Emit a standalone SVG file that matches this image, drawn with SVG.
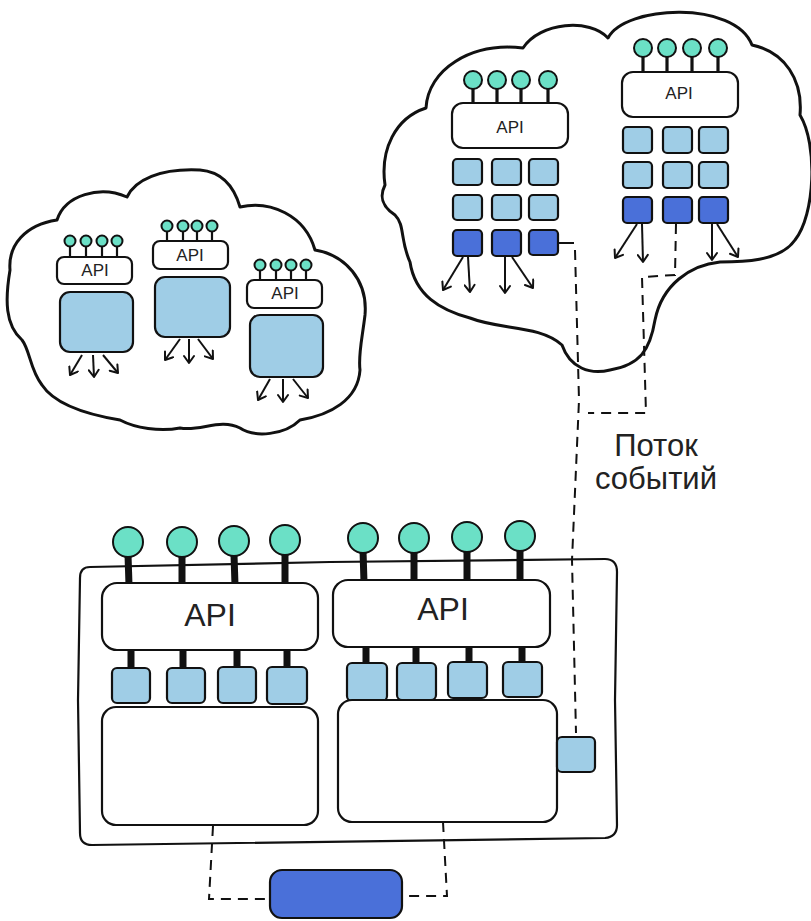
<svg xmlns="http://www.w3.org/2000/svg" width="811" height="921" viewBox="0 0 811 921">
<style>
.cloud{fill:#fff;stroke:#111;stroke-width:3;stroke-linejoin:round}
.ol{fill:#fff;stroke:#111;stroke-width:2.2}
.lb{fill:#9fcde6;stroke:#111;stroke-width:2.2}
.db{fill:#4a70d9;stroke:#111;stroke-width:2.2}
.tl{fill:#6be0c6;stroke:#111;stroke-width:2}
.stem{stroke:#111;stroke-width:2.2}
.stemT{stroke:#111;stroke-width:3.2}
.stemB{stroke:#111;stroke-width:7}
.arr{fill:none;stroke:#111;stroke-width:2;marker-end:url(#ah)}
.dash{fill:none;stroke:#111;stroke-width:2;stroke-dasharray:10 7}
.t{font-family:"Liberation Sans",Arial,sans-serif;fill:#222;text-anchor:middle}
</style>
<defs>
<marker id="ah" viewBox="-9 -6 11 12" refX="0" refY="0" markerWidth="11" markerHeight="12" markerUnits="userSpaceOnUse" orient="auto">
<path d="M-7,-5 L0,0 L-7,5" fill="none" stroke="#111" stroke-width="2" stroke-linecap="round" stroke-linejoin="round"/>
</marker>
</defs>
<rect width="811" height="921" fill="#fff"/>

<g id="cloud-left">
<path class="cloud" d="M10,270 C8,245 25,225 57,220 C65,195 100,185 127,197 C135,180 160,168 200,170 C225,172 235,190 240,207 C270,200 305,215 315,250 C345,255 368,280 365,315 C362,340 358,355 360,370 C358,400 330,415 300,420 C285,435 255,438 240,428 C220,418 200,432 180,428 C160,432 135,428 120,420 C90,415 55,405 42,385 C30,370 30,350 22,340 C5,325 5,300 10,270 Z"/>
</g>

<g id="service-l1">
<line class="stem" x1="70" y1="246" x2="70" y2="257"/><line class="stem" x1="86" y1="246" x2="86" y2="257"/><line class="stem" x1="102" y1="246" x2="102" y2="257"/><line class="stem" x1="117" y1="246" x2="117" y2="257"/>
<circle class="tl" cx="70" cy="241" r="5.5"/><circle class="tl" cx="86" cy="241" r="5.5"/><circle class="tl" cx="102" cy="241" r="5.5"/><circle class="tl" cx="117" cy="241" r="5.5"/>
<rect class="ol" x="57" y="257" width="75" height="27" rx="7"/>
<text class="t" x="95" y="276" font-size="17">API</text>
<rect class="lb" x="60" y="292" width="73" height="60" rx="10"/>
</g>
<g id="service-l2">
<line class="stem" x1="167" y1="231" x2="167" y2="241"/><line class="stem" x1="183" y1="231" x2="183" y2="241"/><line class="stem" x1="197" y1="231" x2="197" y2="241"/><line class="stem" x1="212" y1="231" x2="212" y2="241"/>
<circle class="tl" cx="167" cy="226" r="5.5"/><circle class="tl" cx="183" cy="226" r="5.5"/><circle class="tl" cx="197" cy="226" r="5.5"/><circle class="tl" cx="212" cy="226" r="5.5"/>
<rect class="ol" x="153" y="241" width="75" height="28" rx="7"/>
<text class="t" x="190" y="261" font-size="17">API</text>
<rect class="lb" x="155" y="277" width="75" height="60" rx="10"/>
</g>
<g id="service-l3">
<line class="stem" x1="260" y1="270" x2="260" y2="280"/><line class="stem" x1="276" y1="270" x2="276" y2="280"/><line class="stem" x1="291" y1="270" x2="291" y2="280"/><line class="stem" x1="306" y1="270" x2="306" y2="280"/>
<circle class="tl" cx="260" cy="265" r="5.5"/><circle class="tl" cx="276" cy="265" r="5.5"/><circle class="tl" cx="291" cy="265" r="5.5"/><circle class="tl" cx="306" cy="265" r="5.5"/>
<rect class="ol" x="247" y="280" width="75" height="28" rx="7"/>
<text class="t" x="285" y="299" font-size="17">API</text>
<rect class="lb" x="250" y="315" width="73" height="62" rx="10"/>
</g>

<g id="cloud-right">
<path class="cloud" d="M385,185 C380,150 395,118 426,108 C428,70 470,42 523,48 C540,22 590,18 608,38 C625,5 735,0 752,45 C785,52 803,80 800,115 C818,145 815,215 795,240 C780,262 740,262 720,262 C690,265 662,285 655,320 C650,350 640,365 610,370 C590,375 570,368 562,345 C540,325 500,330 470,318 C440,310 415,295 410,262 C400,240 405,225 395,215 C380,205 380,195 385,185 Z"/>
</g>

<g id="service-r1">
<line class="stemT" x1="473" y1="88" x2="473" y2="103"/><line class="stemT" x1="497" y1="88" x2="497" y2="103"/><line class="stemT" x1="521" y1="88" x2="521" y2="103"/><line class="stemT" x1="548" y1="88" x2="548" y2="103"/>
<circle class="tl" cx="473" cy="80" r="9"/><circle class="tl" cx="497" cy="80" r="9"/><circle class="tl" cx="521" cy="80" r="9"/><circle class="tl" cx="548" cy="80" r="9"/>
<rect class="ol" x="452" y="103" width="116" height="45" rx="11"/>
<text class="t" x="510" y="133" font-size="17">API</text>
<rect class="lb" x="453" y="159" width="29" height="26" rx="4"/><rect class="lb" x="492" y="159" width="29" height="26" rx="4"/><rect class="lb" x="529" y="159" width="29" height="26" rx="4"/>
<rect class="lb" x="453" y="195" width="29" height="25" rx="4"/><rect class="lb" x="492" y="195" width="29" height="25" rx="4"/><rect class="lb" x="529" y="195" width="29" height="25" rx="4"/>
<rect class="db" x="453" y="230" width="29" height="26" rx="4"/><rect class="db" x="492" y="230" width="29" height="26" rx="4"/><rect class="db" x="529" y="230" width="29" height="25" rx="4"/>
</g>
<g id="service-r2">
<line class="stemT" x1="643" y1="56" x2="643" y2="72"/><line class="stemT" x1="667" y1="56" x2="667" y2="72"/><line class="stemT" x1="692" y1="56" x2="692" y2="72"/><line class="stemT" x1="718" y1="56" x2="718" y2="72"/>
<circle class="tl" cx="643" cy="48" r="9"/><circle class="tl" cx="667" cy="48" r="9"/><circle class="tl" cx="692" cy="48" r="9"/><circle class="tl" cx="718" cy="48" r="9"/>
<rect class="ol" x="622" y="72" width="116" height="45" rx="11"/>
<text class="t" x="679" y="99" font-size="17">API</text>
<rect class="lb" x="623" y="127" width="29" height="26" rx="4"/><rect class="lb" x="663" y="127" width="29" height="26" rx="4"/><rect class="lb" x="699" y="127" width="29" height="26" rx="4"/>
<rect class="lb" x="623" y="162" width="29" height="26" rx="4"/><rect class="lb" x="663" y="162" width="29" height="26" rx="4"/><rect class="lb" x="699" y="162" width="29" height="26" rx="4"/>
<rect class="db" x="623" y="197" width="29" height="26" rx="4"/><rect class="db" x="663" y="197" width="29" height="26" rx="4"/><rect class="db" x="699" y="197" width="29" height="26" rx="4"/>
</g>

<g id="label-stream">
<text class="t" x="656" y="456" font-size="31">Поток</text>
<text class="t" x="656" y="489" font-size="31">событий</text>
</g>

<g id="monolith">
<path class="ol" d="M90,567 L330,562 L605,559 Q617,559 617,572 L615,700 L617,825 Q617,837 605,838 L92,845 Q80,845 80,833 L78,700 L80,578 Q80,567 90,567 Z"/>
</g>
<g id="module-1">
<line class="stemB" x1="128" y1="555" x2="129" y2="585"/><line class="stemB" x1="182" y1="555" x2="182" y2="585"/><line class="stemB" x1="234" y1="555" x2="235" y2="585"/><line class="stemB" x1="285" y1="553" x2="285" y2="585"/>
<circle class="tl" cx="128" cy="542" r="15"/><circle class="tl" cx="182" cy="542" r="15"/><circle class="tl" cx="234" cy="541" r="15"/><circle class="tl" cx="285" cy="540" r="15"/>
<line class="stemB" x1="131" y1="648" x2="131" y2="670"/><line class="stemB" x1="183" y1="648" x2="183" y2="670"/><line class="stemB" x1="237" y1="648" x2="237" y2="670"/><line class="stemB" x1="287" y1="648" x2="287" y2="670"/>
<rect class="ol" x="102" y="583" width="216" height="67" rx="15"/>
<text class="t" x="210" y="626" font-size="32">API</text>
<rect class="lb" x="112" y="668" width="38" height="35" rx="5"/><rect class="lb" x="167" y="668" width="38" height="35" rx="5"/><rect class="lb" x="218" y="667" width="38" height="36" rx="5"/><rect class="lb" x="267" y="667" width="40" height="37" rx="5"/>
<rect class="ol" x="102" y="707" width="216" height="118" rx="14"/>
</g>
<g id="module-2">
<line class="stemB" x1="363" y1="551" x2="364" y2="582"/><line class="stemB" x1="414" y1="551" x2="414" y2="582"/><line class="stemB" x1="467" y1="550" x2="467" y2="582"/><line class="stemB" x1="520" y1="549" x2="520" y2="582"/>
<circle class="tl" cx="363" cy="538" r="15"/><circle class="tl" cx="414" cy="538" r="15"/><circle class="tl" cx="467" cy="537" r="15"/><circle class="tl" cx="520" cy="536" r="15"/>
<line class="stemB" x1="366" y1="645" x2="366" y2="665"/><line class="stemB" x1="416" y1="645" x2="416" y2="665"/><line class="stemB" x1="469" y1="645" x2="469" y2="664"/><line class="stemB" x1="522" y1="645" x2="522" y2="664"/>
<rect class="ol" x="333" y="580" width="217" height="67" rx="15"/>
<text class="t" x="443" y="620" font-size="32">API</text>
<rect class="lb" x="347" y="663" width="40" height="38" rx="5"/><rect class="lb" x="397" y="663" width="39" height="37" rx="5"/><rect class="lb" x="448" y="662" width="39" height="36" rx="5"/><rect class="lb" x="503" y="662" width="39" height="35" rx="5"/>
<rect class="ol" x="338" y="700" width="219" height="122" rx="14"/>
</g>
<g id="event-box">
<rect class="lb" x="557" y="737" width="38" height="35" rx="5"/>
</g>
<g id="database">
<rect class="db" x="270" y="870" width="132" height="48" rx="12"/>
</g>

<g id="connectors">
<line class="arr" x1="82" y1="355" x2="70" y2="375"/>
<line class="arr" x1="93" y1="355" x2="94" y2="377"/>
<line class="arr" x1="103" y1="355" x2="118" y2="373"/>
<line class="arr" x1="180" y1="339" x2="165" y2="360"/>
<line class="arr" x1="189" y1="339" x2="189" y2="363"/>
<line class="arr" x1="198" y1="339" x2="213" y2="359"/>
<line class="arr" x1="270" y1="379" x2="258" y2="400"/>
<line class="arr" x1="283" y1="379" x2="283" y2="402"/>
<line class="arr" x1="293" y1="379" x2="308" y2="398"/>
<line class="arr" x1="463" y1="257" x2="443" y2="290"/>
<line class="arr" x1="468" y1="257" x2="470" y2="292"/>
<line class="arr" x1="505" y1="257" x2="505" y2="293"/>
<line class="arr" x1="512" y1="257" x2="533" y2="288"/>
<line class="arr" x1="637" y1="224" x2="615" y2="258"/>
<line class="arr" x1="642" y1="224" x2="643" y2="262"/>
<line class="arr" x1="712" y1="224" x2="712" y2="260"/>
<line class="arr" x1="717" y1="224" x2="738" y2="257"/>
<line stroke="#111" stroke-width="2" x1="558" y1="243" x2="574" y2="243"/>
<path class="dash" d="M575,250 L579,400 L572,560 L576,733"/>
<path class="dash" d="M676,224 L675,275 L642,277 L646,413 L588,413"/>
<path class="dash" d="M213,826 L209,899 L266,899"/>
<path class="dash" d="M443,822 L447,896 L406,896"/>
</g>
</svg>
